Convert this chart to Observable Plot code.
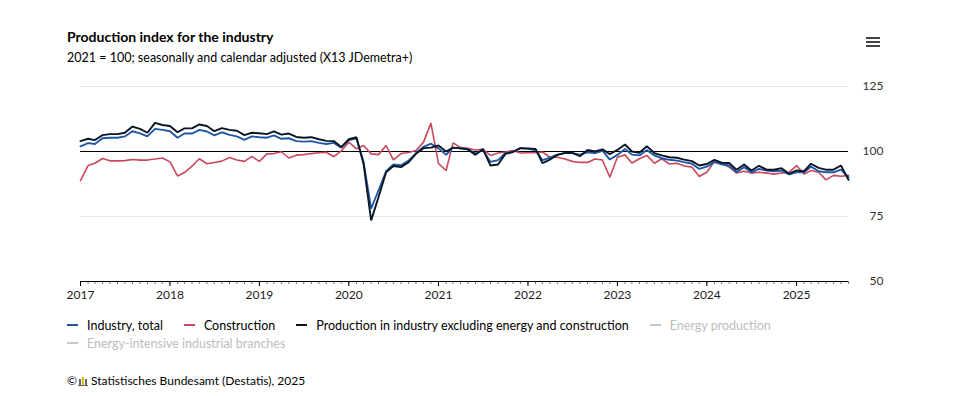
<!DOCTYPE html>
<html>
<head>
<meta charset="utf-8">
<script src="https://cdn.jsdelivr.net/npm/d3@7"></script>
<script src="https://cdn.jsdelivr.net/npm/@observablehq/plot@0.6"></script>
<style>
  html, body { margin: 0; padding: 0; background: #fff; }
  body { width: 962px; height: 396px; position: relative; font-family: Lato, "Noto Sans", sans-serif; color: #000; overflow: hidden; }
  #title { position: absolute; left: 67px; top: 28px; font-size: 14px; font-weight: bold; }
  #subtitle { position: absolute; left: 67px; top: 50px; font-size: 12.5px; }
  #menu { position: absolute; left: 866px; top: 37px; width: 14px; }
  #menu div { height: 2px; background: #444; margin-bottom: 2px; }
  #chart { position: absolute; left: 0; top: 70px; }
  .legend { position: absolute; left: 67px; font-size: 12.5px; white-space: nowrap; }
  .legend span.item { display: inline-flex; align-items: center; margin-right: 21px; }
  .legend span.sw { display: inline-block; width: 11px; height: 2px; margin-right: 9px; }
  #caption { position: absolute; left: 67px; top: 373px; font-size: 12px; display: flex; align-items: center; }
</style>
</head>
<body>
<div id="title">Production index for the industry</div>
<div id="subtitle">2021 = 100; seasonally and calendar adjusted (X13 JDemetra+)</div>
<div id="menu"><div></div><div></div><div></div></div>
<div id="chart"></div>
<div class="legend" id="leg1" style="top:314px"></div>
<div class="legend" id="leg2" style="top:332px"></div>
<div id="caption"><span>©</span><svg width="11" height="10" style="margin:0 2px 0 1px"><rect x="1" y="3" width="2" height="6" fill="#666"/><rect x="4" y="1" width="2" height="8" fill="#e8b400"/><rect x="7" y="3" width="2" height="6" fill="#666"/><rect x="0" y="9" width="10" height="1" fill="#666"/></svg><span>Statistisches Bundesamt (Destatis), 2025</span></div>
<script>
// Monthly values, Jan 2017 – Aug 2025
const startMonth = "2017-01";
const yearTicks = ["2017","2018","2019","2020","2021","2022","2023","2024","2025"];
const yTicks = [50, 75, 100, 125];
const seriesNames = ["Industry, total", "Construction", "Production in industry excluding energy and construction", "Energy production", "Energy-intensive industrial branches"];
const seriesColors = ["#1f57a4", "#c9485b", "#0a1626", "#c8c8c8", "#c8c8c8"];

const industryTotal = [
  102, 103.2, 102.9, 105.1, 105.3, 105.3, 105.8, 107.8, 107, 105.8, 108.7, 108.3,
  107.8, 105.3, 106.9, 106.9, 108.3, 107.7, 106.2, 107.4, 106.4, 105.8, 104.5, 105.8,
  105.5, 105.3, 106.2, 104.9, 105.1, 104, 103.8, 104, 103.3, 102.9, 103.3, 101.5,
  104.4, 105, 96, 78, 85, 92.4, 95, 94.7, 96.5, 99.4, 101.8, 103,
  101.2, 98.7, 101.5, 101.2, 100.8, 99.2, 100.6, 96, 96.7, 99.4, 99.9, 101.3,
  101, 100.6, 96.7, 97.6, 98.8, 99.4, 99.4, 98.8, 99.7, 99.4, 100.3, 96.9,
  98.7, 101, 98.8, 98.5, 100.6, 98.5, 97.4, 96.8, 96.5, 95.9, 95.3, 93.3,
  94.2, 95.9, 95.1, 94.6, 92, 94, 92, 93.3, 92.7, 92.4, 92.7, 91.2,
  92, 92, 94.2, 92.4, 92, 92, 93, 90.1
];
const construction = [
  88.8, 94.6, 95.5, 97.3, 96.4, 96.4, 96.5, 96.9, 96.7, 96.7, 97.1, 97.5,
  96, 90.6, 91.9, 94.4, 97.2, 95.3, 95.8, 96.3, 97.7, 96.7, 96.2, 98.1,
  96.2, 99.1, 99.2, 99.9, 97.5, 98.6, 98.8, 99.2, 99.5, 99.7, 98, 100.2,
  103.6, 101, 102.3, 99.1, 98.8, 102.3, 96.8, 99.2, 99.6, 100.4, 103.6, 110.9,
  95.3, 92.7, 103.3, 101.5, 101.2, 100.6, 100.8, 98.5, 99.4, 99.8, 100.4, 99.4,
  99.5, 99.5, 99.8, 97.8, 97.8, 97.1, 96.2, 95.8, 95.8, 97.1, 96.7, 90.1,
  97.8, 98.7, 95.6, 97.2, 98.5, 95.5, 97.2, 95.2, 95.5, 94.4, 94, 90.4,
  92, 96.2, 95.3, 94, 91.7, 92.4, 91.7, 92, 91.7, 91.3, 91.7, 92,
  94.6, 91.3, 92.7, 92, 89.1, 90.8, 90.5, 90.8
];
const manufacturing = [
  104, 104.9, 104.4, 106.3, 106.7, 106.7, 107.2, 109.6, 108.7, 107.2, 111, 110.2,
  109.8, 107.4, 108.9, 108.9, 110.4, 109.8, 107.8, 109, 108.3, 108, 106.3, 107.2,
  107, 106.7, 107.7, 106.5, 106.9, 105.6, 105.3, 105.5, 104.7, 104.1, 104, 101.7,
  104.7, 105.5, 95.3, 73.5, 82.4, 92, 94.4, 94, 95.9, 99.1, 101.3, 101.5,
  102.3, 100, 101.5, 101.2, 100.8, 98.7, 101, 94.6, 95, 99.1, 99.8, 101.3,
  101.2, 101, 95.5, 96.9, 98.7, 99.5, 99.5, 98.2, 100.6, 100, 100.8, 99,
  100.6, 102.7, 100, 99.5, 102, 99.4, 98.5, 97.8, 97.6, 96.9, 96.3, 94.6,
  95.2, 96.8, 95.7, 95.6, 93, 95, 92.7, 94.5, 93, 93, 93.6, 91.4,
  92.7, 92.4, 95.3, 93.7, 93, 93, 94.6, 89.1
];

const start = new Date(startMonth + "-01T00:00:00Z");
const dateAt = i => d3.utcMonth.offset(start, i);
function rows(arr, name) { return arr.map((v, i) => ({date: dateAt(i), value: v, series: name})); }
const data = [
  ...rows(construction, seriesNames[1]),
  ...rows(industryTotal, seriesNames[0]),
  ...rows(manufacturing, seriesNames[2])
];
const lastDate = dateAt(industryTotal.length - 1);
const yearDates = yearTicks.map(y => new Date(y + "-01-01T00:00:00Z"));
const monthDates = d3.utcMonth.range(start, d3.utcMonth.offset(lastDate, 1));

const plot = Plot.plot({
  width: 962,
  height: 241,
  marginLeft: 80,
  marginRight: 114,
  marginTop: 16,
  marginBottom: 30,
  style: {fontFamily: "Lato, 'Noto Sans', sans-serif", fontSize: "12px", color: "#333", background: "transparent"},
  x: {type: "utc", domain: [start, lastDate], label: null},
  y: {domain: [50, 125], label: null},
  color: {domain: seriesNames, range: seriesColors},
  marks: [
    Plot.ruleY([75, 125], {stroke: "#e8e8e8", strokeWidth: 1}),
    Plot.ruleY([100], {stroke: "#000", strokeWidth: 1}),
    Plot.axisY({anchor: "right", ticks: yTicks, tickSize: 0, tickPadding: 35, textAnchor: "end", fill: "#333", fontSize: 12, label: null}),
    Plot.axisX({ticks: monthDates, tickSize: 3, text: null, stroke: "#555", strokeWidth: 0.8, label: null}),
    Plot.axisX({ticks: yearDates, tickSize: 5, tickPadding: 4, tickFormat: (d, i) => yearTicks[i], stroke: "#000", fill: "#222", fontSize: 12, label: null}),
    Plot.ruleY([50], {stroke: "#000", strokeWidth: 1}),
    Plot.line(data, {x: "date", y: "value", z: "series", stroke: "series", strokeWidth: d => d.series === seriesNames[1] ? 1.6 : 1.9, strokeLinejoin: "miter"})
  ]
});
document.getElementById("chart").appendChild(plot);

function legend(el, items) {
  const div = document.getElementById(el);
  items.forEach(i => {
    const s = document.createElement("span");
    s.className = "item";
    const sw = document.createElement("span");
    sw.className = "sw";
    sw.style.background = seriesColors[i];
    const t = document.createElement("span");
    t.textContent = seriesNames[i];
    t.style.color = i >= 3 ? "#bdbdbd" : "#000";
    s.appendChild(sw); s.appendChild(t);
    div.appendChild(s);
  });
}
legend("leg1", [0, 1, 2, 3]);
legend("leg2", [4]);
</script>
</body>
</html>
